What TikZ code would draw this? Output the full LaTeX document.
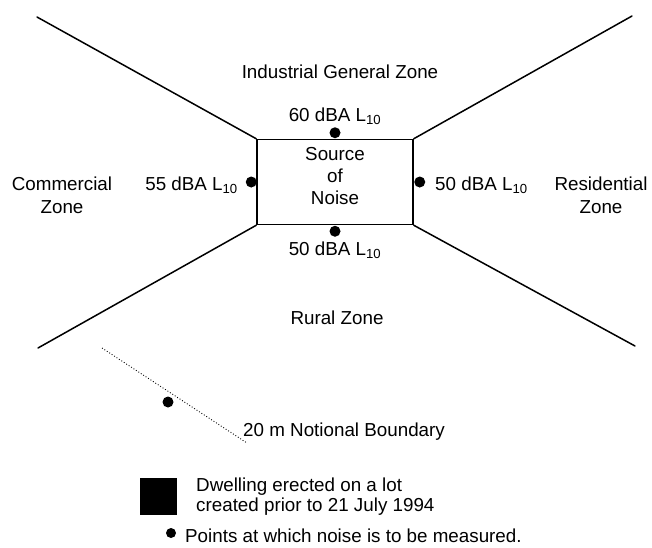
\documentclass[tikz,border=0pt]{standalone}
\usepackage{fontspec}
\setmainfont{Liberation Sans}
\usepackage{tikz}

\tikzset{
  zoneline/.style={line width=1.5pt,line cap=round},
  meas/.style={circle,fill=black,inner sep=0pt,minimum size=11pt},
  lbl/.style={font=\fontsize{18.8}{23}\selectfont,inner sep=0pt,align=center},
}

\begin{document}
\begin{tikzpicture}[x=1pt,y=-1pt]
      \useasboundingbox (0,0) rectangle (652,547);
      % source box and the four zone boundaries
      \node [draw,line width=1.5pt,minimum width=156pt,minimum height=85pt,inner sep=0pt] (src) at (335,182) {};
      \node [lbl,font=\fontsize{18.8}{22}\selectfont] (srctxt) at (335,176) {Source\\of\\Noise};
      \coordinate (tl) at (37,17);
      \coordinate (tr) at (632,16);
      \coordinate (bl) at (38,348);
      \coordinate (br) at (635,346);
      \draw [zoneline] (src.north west) -- (tl);
      \draw [zoneline] (src.north east) -- (tr);
      \draw [zoneline] (src.south west) -- (bl);
      \draw [zoneline] (src.south east) -- (br);
      % measuring points
      \node [meas] (mtop) at ([yshift=6pt]src.north) {};
      \node [meas] (mleft) at ([xshift=-5pt]src.west) {};
      \node [meas] (mright) at ([xshift=6pt]src.east) {};
      \node [meas] (mbot) at ([yshift=-6pt]src.south) {};
      \node [lbl] (ltop) at (335,116) {60 dBA L\textsubscript{10}};
      \node [lbl,anchor=east] (lleft) at (238,185) {55 dBA L\textsubscript{10}};
      \node [lbl,anchor=west] (lright) at (435,185) {50 dBA L\textsubscript{10}};
      \node [lbl] (lbot) at (335,250) {50 dBA L\textsubscript{10}};
      % zones
      \node [lbl] (zind) at (340,72) {Industrial General Zone};
      \node [lbl] (zcom) at (62,195) {Commercial\\Zone};
      \node [lbl] (zres) at (601,195) {Residential\\Zone};
      \node [lbl] (zrur) at (337,318) {Rural Zone};
      % legend
      \coordinate (nb1) at (102,348);
      \coordinate (nb2) at (247,443);
      \draw [dotted,line width=0.9pt] (nb1) -- (nb2);
      \node [meas] (mleg) at (168,402) {};
      \node [lbl,anchor=west] (lnb) at (243,432) {20 m Notional Boundary};
      \node [fill=black,minimum size=37pt,inner sep=0pt] (dwell) at (158,496) {};
      \node [lbl,anchor=west,align=left,font=\fontsize{18.8}{20}\selectfont] (ldwell) at (196,497) {Dwelling erected on a lot\\created prior to 21 July 1994};
      \node [meas,minimum size=10pt] (mkey) at (171,533) {};
      \node [lbl,anchor=west] (lkey) at (185,536) {Points at which noise is to be measured.};
\end{tikzpicture}
\end{document}
